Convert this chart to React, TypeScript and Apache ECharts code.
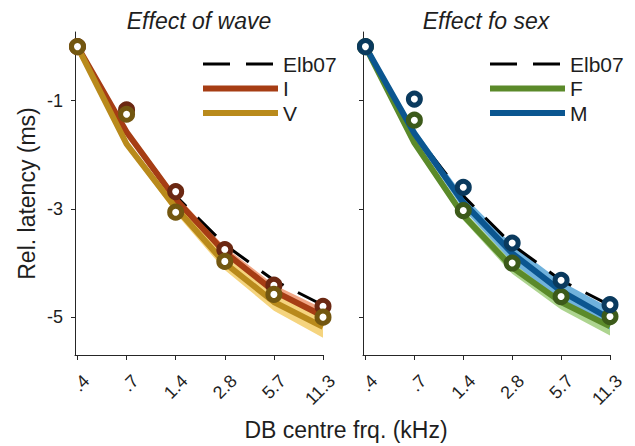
import React, { useEffect, useRef } from "react";
import * as echarts from "echarts";

// ---- data ----
const categories = [".4", ".7", "1.4", "2.8", "5.7", "11.3"];
const yTickValues = [-1, -3, -5];
const elb07 = [0, -1.6, -2.76, -3.66, -4.32, -4.78];

// Effect of wave
const waveIFit = [0, -1.58, -2.82, -3.8, -4.52, -4.98];
const waveIBand = [0, 0.05, 0.08, 0.1, 0.12, 0.14];
const waveIObs = [0, -1.17, -2.68, -3.75, -4.41, -4.8];
const waveVFit = [0, -1.8, -2.98, -4.0, -4.72, -5.18];
const waveVBand = [0, 0.06, 0.1, 0.13, 0.16, 0.2];
const waveVObs = [0, -1.25, -3.06, -3.97, -4.58, -5.0];

// Effect of sex
const sexFFit = [0, -1.78, -3.12, -4.08, -4.72, -5.17];
const sexFBand = [0, 0.05, 0.09, 0.12, 0.14, 0.17];
const sexFObs = [0, -1.36, -3.03, -4.0, -4.62, -4.99];
const sexMFit = [0, -1.6, -2.88, -3.82, -4.52, -5.03];
const sexMBand = [0, 0.08, 0.13, 0.16, 0.18, 0.2];
const sexMObs = [0, -0.97, -2.6, -3.63, -4.32, -4.77];

const FONT = '"Liberation Sans", Arial, Helvetica, sans-serif';
const TXT = "#1e1e1e";
const AX = "#262626";

const idx = categories.map((_, i) => i);
const pts = (vals: number[]) => vals.map((v, i) => [i, v]);

function bandSeries(fit: number[], hw: number[], color: string, g: number) {
  const lo = fit.map((v, i) => v - hw[i]);
  const hi = fit.map((v, i) => v + hw[i]);
  return {
    type: "custom",
    xAxisIndex: g,
    yAxisIndex: g,
    data: fit.map((_, i) => [i, lo[i], hi[i]]),
    encode: { x: 0, y: [1, 2] },
    silent: true,
    z: 1,
    renderItem: (params: any, api: any) => {
      if (params.dataIndex !== 0) return null;
      const points: number[][] = [];
      for (let i = 0; i < lo.length; i++) points.push(api.coord([i, lo[i]]));
      for (let i = hi.length - 1; i >= 0; i--) points.push(api.coord([i, hi[i]]));
      return {
        type: "polygon",
        shape: { points },
        style: { fill: color, stroke: "none" },
      };
    },
  };
}

function fitSeries(name: string, fit: number[], color: string, g: number) {
  return {
    type: "line",
    name,
    xAxisIndex: g,
    yAxisIndex: g,
    data: pts(fit),
    symbol: "none",
    color,
    itemStyle: { color },
    lineStyle: { width: 6, color },
    z: 3,
  };
}

function obsSeries(name: string, obs: number[], color: string, g: number, z: number) {
  return {
    type: "scatter",
    name,
    xAxisIndex: g,
    yAxisIndex: g,
    data: pts(obs),
    symbol: "circle",
    symbolSize: 12,
    itemStyle: { color: "#ffffff", borderColor: color, borderWidth: 5, opacity: 1 },
    z,
  };
}

function elbSeries(g: number) {
  return {
    type: "line",
    name: "Elb07",
    xAxisIndex: g,
    yAxisIndex: g,
    data: pts(elb07),
    symbol: "none",
    color: "#000",
    itemStyle: { color: "#000" },
    lineStyle: { width: 3, color: "#000", type: [26, 16] },
    z: 2,
  };
}

function mainXAxis(g: number) {
  return {
    type: "value",
    gridIndex: g,
    min: -0.05,
    max: 5,
    axisLine: { show: true, onZero: false, lineStyle: { color: AX, width: 1 } },
    axisTick: { show: true, length: 5, customValues: idx, lineStyle: { color: AX, width: 1 } },
    axisLabel: { show: false },
    splitLine: { show: false },
  };
}

function labelXAxis(g: number) {
  return {
    type: "value",
    gridIndex: g,
    min: -0.05,
    max: 5,
    axisLine: { show: false, onZero: false },
    axisTick: { show: false },
    splitLine: { show: false },
    axisLabel: {
      show: true,
      customValues: idx,
      rotate: 45,
      margin: 23,
      fontSize: 18,
      fontFamily: FONT,
      color: TXT,
      formatter: (v: number) => categories[Math.round(v)],
    },
  };
}

function yAxis(g: number) {
  return {
    type: "value",
    gridIndex: g,
    min: -5.7,
    max: 0.27,
    axisLine: { show: true, onZero: false, lineStyle: { color: AX, width: 1 } },
    axisTick: { show: true, length: 4, customValues: yTickValues, lineStyle: { color: AX, width: 1 } },
    axisLabel: {
      show: g === 0,
      customValues: yTickValues,
      fontSize: 18,
      fontFamily: FONT,
      color: TXT,
      margin: 12,
    },
    splitLine: { show: false },
    name: g === 0 ? "Rel. latency (ms)" : "",
    nameLocation: "middle",
    nameGap: 37,
    nameTextStyle: { fontSize: 23, fontFamily: FONT, color: TXT },
  };
}

function hiddenYAxis(g: number) {
  return { type: "value", gridIndex: g, min: -5.7, max: 0.27, show: false };
}

function legend(names: string[], left: number) {
  return {
    data: [
      { name: names[0], lineStyle: { width: 3, type: [27, 16] } },
      { name: names[1], lineStyle: { width: 6 } },
      { name: names[2], lineStyle: { width: 6 } },
    ],
    orient: "vertical",
    left,
    top: 53,
    padding: 0,
    itemWidth: 75,
    itemHeight: 14,
    itemGap: 2.5,
    selectedMode: false,
    itemStyle: { opacity: 0 },
    textStyle: { fontSize: 21, fontFamily: FONT, color: TXT, lineHeight: 22 },
  };
}

export default function App() {
  const ref = useRef<HTMLDivElement>(null);
  useEffect(() => {
    if (!ref.current) return;
    const chart = echarts.init(ref.current, undefined, { renderer: "svg" });
    const option = {
      animation: false,
      backgroundColor: "#ffffff",
      textStyle: { fontFamily: FONT },
      grid: [
        { left: 75, top: 32, width: 248, height: 323 },
        { left: 363, top: 32, width: 247, height: 323 },
        { left: 84, top: 32, width: 248, height: 323 },
        { left: 372, top: 32, width: 247, height: 323 },
      ],
      xAxis: [mainXAxis(0), mainXAxis(1), labelXAxis(2), labelXAxis(3)],
      yAxis: [yAxis(0), yAxis(1), hiddenYAxis(2), hiddenYAxis(3)],
      legend: [legend(["Elb07", "I", "V"], 200), legend(["Elb07", "F", "M"], 487)],
      graphic: [
        {
          type: "text",
          x: 199,
          y: 21,
          style: {
            text: "Effect of wave",
            font: `italic 23px ${FONT}`,
            fill: TXT,
            align: "center",
            verticalAlign: "middle",
          },
        },
        {
          type: "text",
          x: 486,
          y: 21,
          style: {
            text: "Effect fo sex",
            font: `italic 23px ${FONT}`,
            fill: TXT,
            align: "center",
            verticalAlign: "middle",
          },
        },
        {
          type: "text",
          x: 346,
          y: 430,
          style: {
            text: "DB centre frq. (kHz)",
            font: `23px ${FONT}`,
            fill: TXT,
            align: "center",
            verticalAlign: "middle",
          },
        },
      ],
      series: [
        bandSeries(waveIFit, waveIBand, "#f0a584", 0),
        bandSeries(waveVFit, waveVBand, "#f5d47e", 0),
        elbSeries(0),
        fitSeries("I", waveIFit, "#a63d14", 0),
        fitSeries("V", waveVFit, "#b98a1b", 0),
        obsSeries("I obs", waveIObs, "#6b2812", 0, 4),
        obsSeries("V obs", waveVObs, "#735710", 0, 5),

        bandSeries(sexFFit, sexFBand, "#add48f", 1),
        bandSeries(sexMFit, sexMBand, "#70b2dc", 1),
        elbSeries(1),
        fitSeries("F", sexFFit, "#5b8a2a", 1),
        fitSeries("M", sexMFit, "#0b5690", 1),
        obsSeries("F obs", sexFObs, "#3c5a1a", 1, 4),
        obsSeries("M obs", sexMObs, "#0a3a5e", 1, 5),
      ],
    };
    chart.setOption(option as any);
    return () => chart.dispose();
  }, []);
  return (
    <div
      ref={ref}
      style={{ position: "fixed", left: 0, top: 0, width: 635, height: 446, background: "#fff" }}
    />
  );
}
